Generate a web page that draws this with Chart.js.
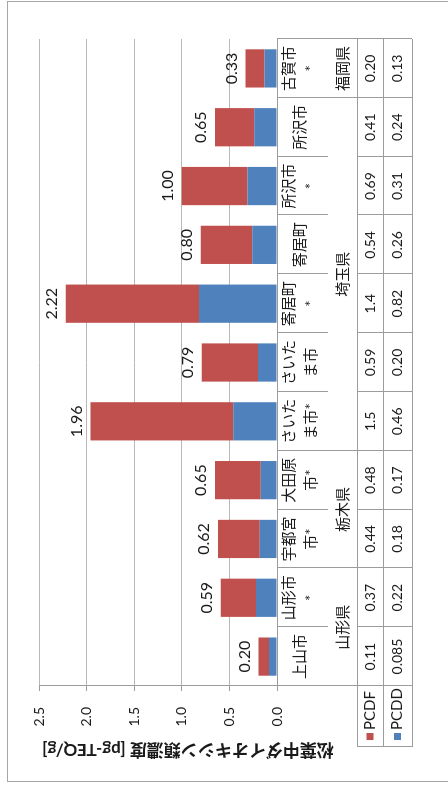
<!DOCTYPE html>
<html><head><meta charset="utf-8">
<script src="https://cdn.jsdelivr.net/npm/chart.js@4"></script>
<style>
html,body{margin:0;padding:0;background:#fff;width:448px;height:790px;overflow:hidden;}
#wrap{position:absolute;left:0;top:0;width:790px;height:448px;transform-origin:0 0;transform:translate(0,790px) rotate(-90deg);background:#fff;overflow:hidden;}
#frame{position:absolute;left:8px;top:7px;width:781px;height:450px;border:1.5px solid #a6a6a6;box-sizing:border-box;pointer-events:none;}
canvas{position:absolute;left:0;top:0;}
</style></head>
<body><div id="wrap"><canvas id="c" width="790" height="448"></canvas><div id="frame"></div></div>
<script>
// ---- data ----
const cities = [["上山市"],["山形市","*"],["宇都宮","市*"],["大田原","市*"],["さいた","ま市*"],["さいた","ま市"],["寄居町","*"],["寄居町"],["所沢市","*"],["所沢市"],["古賀市","*"]];
const prefectures = ["山形県","栃木県","埼玉県","福岡県"];
const prefectureSpans = [2,2,6,1];
const seriesNames = ["PCDF","PCDD"];
const pcdf = [0.11,0.37,0.44,0.48,1.5,0.59,1.4,0.54,0.69,0.41,0.20];
const pcdd = [0.085,0.22,0.18,0.17,0.46,0.20,0.82,0.26,0.31,0.24,0.13];
const pcdfLabels = ["0.11","0.37","0.44","0.48","1.5","0.59","1.4","0.54","0.69","0.41","0.20"];
const pcddLabels = ["0.085","0.22","0.18","0.17","0.46","0.20","0.82","0.26","0.31","0.24","0.13"];
const totalLabels = ["0.20","0.59","0.62","0.65","1.96","0.79","2.22","0.80","1.00","0.65","0.33"];
const yTicks = ["0.0","0.5","1.0","1.5","2.0","2.5"];
const yTitle = "松葉中ダイオキシン類濃度 [pg-TEQ/g]";

// ---- styles ----
const RED = '#C0504D', BLUE = '#4F81BD';
const FAM = "Lato, 'Noto Sans CJK JP', sans-serif";
const TXT = '#1a1a1a';
const LINE = '#9c9c9c';

const tablePlugin = {
  id: 'tablePlugin',
  afterDraw(chart) {
    const {ctx, chartArea: a, scales: {x, y}} = chart;
    const n = cities.length;
    const step = (a.right - a.left) / n;
    const bx = k => a.left + step * k;
    const axisY = a.bottom;
    const cityBottom = axisY + 51;
    const prefBottom = axisY + 80;
    const r1Bottom = axisY + 106;
    const r2Bottom = axisY + 135;
    const legendLeft = 43;
    const groupBounds = [0];
    prefectureSpans.reduce((s, v) => { groupBounds.push(s + v); return s + v; }, 0);

    ctx.save();
    ctx.strokeStyle = LINE;
    ctx.lineWidth = 1;
    const hl = (x1, x2, yy) => { ctx.beginPath(); ctx.moveTo(x1, Math.round(yy) + 0.5); ctx.lineTo(x2, Math.round(yy) + 0.5); ctx.stroke(); };
    const vl = (xx, y1, y2) => { ctx.beginPath(); ctx.moveTo(Math.round(xx) + 0.5, y1); ctx.lineTo(Math.round(xx) + 0.5, y2); ctx.stroke(); };
    hl(a.left, a.right, axisY);
    hl(legendLeft, a.right, prefBottom);
    hl(legendLeft, a.right, r1Bottom);
    hl(legendLeft, a.right, r2Bottom);
    vl(a.left, a.top, r2Bottom);
    vl(legendLeft, prefBottom, r2Bottom);
    for (let k = 1; k <= n; k++) {
      if (groupBounds.includes(k)) vl(bx(k), axisY, r2Bottom);
      else { vl(bx(k), axisY, cityBottom); vl(bx(k), prefBottom, r2Bottom); }
    }

    ctx.fillStyle = TXT;
    ctx.textAlign = 'center';
    ctx.textBaseline = 'middle';
    // city labels
    ctx.font = "15px " + FAM;
    const cc = axisY + 23;
    cities.forEach((c, i) => {
      const cx = x.getPixelForValue(i);
      if (c.length === 1) ctx.fillText(c[0], cx, cc);
      else { ctx.fillText(c[0], cx, cc - 11); ctx.fillText(c[1], cx, cc + 11); }
    });
    // prefectures
    let start = 0;
    prefectures.forEach((p, j) => {
      const cx = (bx(start) + bx(start + prefectureSpans[j])) / 2;
      ctx.fillText(p, cx, (cityBottom + prefBottom) / 2 + 0.5);
      start += prefectureSpans[j];
    });
    // values
    ctx.font = "14px " + FAM;
    const rows = [pcdfLabels, pcddLabels];
    const rowC = [(prefBottom + r1Bottom) / 2, (r1Bottom + r2Bottom) / 2];
    rows.forEach((r, j) => r.forEach((v, i) => ctx.fillText(v, x.getPixelForValue(i), rowC[j])));
    // legend cells
    const cols = [RED, BLUE];
    ctx.textAlign = 'left';
    ctx.font = "15px " + FAM;
    seriesNames.forEach((s, j) => {
      ctx.fillStyle = cols[j];
      ctx.fillRect(50, rowC[j] - 3.5, 7, 7);
      ctx.fillStyle = TXT;
      ctx.fillText(s, 60, rowC[j]);
    });
    // totals above bars
    ctx.textAlign = 'center';
    ctx.font = "16px " + FAM;
    totalLabels.forEach((t, i) => {
      const top = y.getPixelForValue(pcdf[i] + pcdd[i]);
      ctx.fillText(t, x.getPixelForValue(i), top - 14);
    });
    // y axis title
    ctx.save();
    ctx.translate(41, 188);
    ctx.rotate(-Math.PI / 2);
    ctx.font = "bold 17px " + FAM;
    ctx.fillText(yTitle, 0, 0);
    ctx.restore();
    ctx.restore();
  }
};

new Chart(document.getElementById('c'), {
  type: 'bar',
  data: {
    labels: cities.map(c => c.join('')),
    datasets: [
      {label: seriesNames[1], data: pcdd, backgroundColor: BLUE, stack: 's'},
      {label: seriesNames[0], data: pcdf, backgroundColor: RED, stack: 's'}
    ]
  },
  options: {
    responsive: false,
    animation: false,
    devicePixelRatio: 1,
    layout: {padding: {left: 0, right: 39, top: 39, bottom: 0}},
    datasets: {bar: {barPercentage: 0.65, categoryPercentage: 1.0}},
    plugins: {legend: {display: false}, tooltip: {enabled: false}, title: {display: false}},
    scales: {
      x: {
        stacked: true,
        ticks: {display: false},
        grid: {display: false},
        border: {display: false},
        afterFit: s => { s.height = 171; }
      },
      y: {
        stacked: true,
        min: 0, max: 2.5,
        ticks: {stepSize: 0.5, padding: 16, color: TXT, font: {family: FAM, size: 14},
          callback: (v, i) => yTicks[i]},
        grid: {color: '#b8b8b8', lineWidth: 1, tickLength: 5, tickColor: LINE},
        border: {display: false},
        afterFit: s => { s.width = 104; }
      }
    }
  },
  plugins: [tablePlugin]
});
</script>
</body></html>
